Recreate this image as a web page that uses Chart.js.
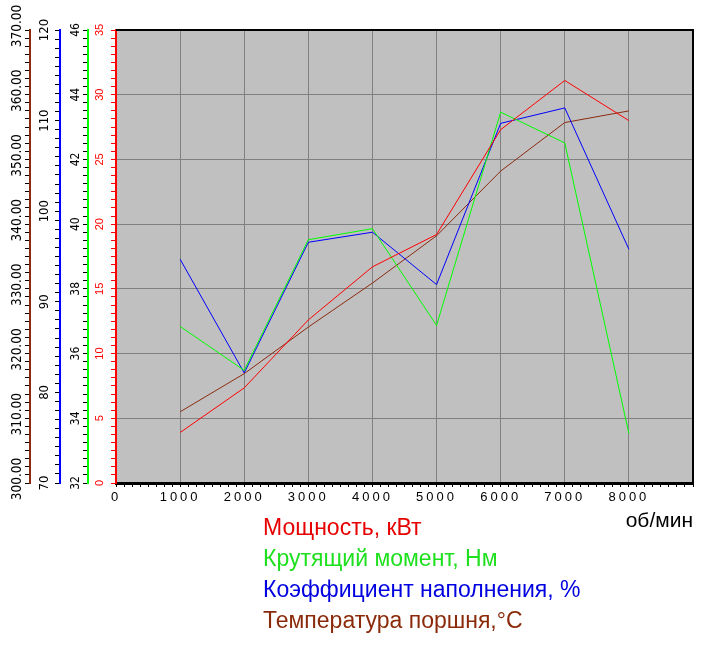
<!DOCTYPE html>
<html><head><meta charset="utf-8">
<script src="https://cdn.jsdelivr.net/npm/chart.js@4/dist/chart.umd.min.js"></script>
<style>html,body{margin:0;padding:0;background:#fff}#w{width:706px;height:645px}</style>
</head><body><div id="w"><canvas id="c" width="706" height="645"></canvas></div>
<script>
// ---- data ----
const rpm = [1000, 2000, 3000, 4000, 5000, 6000, 7000, 8000];
const powerKW = [3.9, 7.35, 12.6, 16.7, 19.2, 27.3, 31.1, 28.0];
const torqueNm = [36.84, 35.48, 39.52, 39.86, 36.87, 43.46, 42.51, 33.53];
const fillPct = [94.7, 82.15, 96.57, 97.68, 91.9, 109.7, 111.4, 95.8];
const pistonTemp = [311.0, 316.9, 324.1, 330.9, 338.2, 348.2, 355.7, 357.5];

const seriesLabels = ['Мощность, кВт', 'Крутящий момент, Нм', 'Коэффициент наполнения, %', 'Температура поршня,°C'];
const xTitle = 'об/мин';
const xTickLabels = ['0', '1000', '2000', '3000', '4000', '5000', '6000', '7000', '8000'];
const powerTickLabels = ['0', '5', '10', '15', '20', '25', '30', '35'];
const torqueTickLabels = ['32', '34', '36', '38', '40', '42', '44', '46'];
const fillTickLabels = ['70', '80', '90', '100', '110', '120'];
const tempTickLabels = ['300.00', '310.00', '320.00', '330.00', '340.00', '350.00', '360.00', '370.00'];

// ---- styles ----
const NARROW = "'Liberation Sans Narrow','DejaVu Sans Condensed','Arial Narrow',sans-serif";
const SANS = "'Liberation Sans', Arial, sans-serif";
const RED = '#ff0000', GREEN = '#00ff00', BLUE = '#0000ff', BROWN = '#8c2a10';
const legendColors = ['#e60000', '#1ee01e', '#0000e0', '#8b2a0a'];

function measure(font, texts) {
  const c = document.createElement('canvas').getContext('2d');
  c.font = font.size + 'px ' + font.family;
  return Math.max(...texts.map(t => c.measureText(t).width));
}

function yScale(o) {
  const W = measure(o.font, o.labels);
  return {
    type: 'linear', position: 'left', weight: o.weight, min: o.min, max: o.max,
    afterFit: s => { s.width = o.width; },
    border: { display: true, color: o.lineColor, width: 2 },
    grid: {
      drawOnChartArea: !!o.gridOnChart,
      color: ctx => (o.gridOnChart && ctx.tick && o.labels.includes(o.fmt(ctx.tick.value))) ? '#808080' : 'rgba(0,0,0,0)',
      tickColor: o.tickColor, tickLength: 5, lineWidth: 1, tickWidth: 1
    },
    ticks: {
      stepSize: o.step, autoSkip: false, minRotation: 90, maxRotation: 90,
      crossAlign: 'center', padding: o.d - 5 - W / 2, labelOffset: o.labelOffset || 0,
      color: o.labelColor, font: o.font,
      callback: v => { const s = o.fmt(v); return o.labels.includes(s) ? s : ''; }
    }
  };
}

const fmtInt = v => String(Math.round(v * 1000) / 1000);

const bgPlugin = {
  id: 'bg',
  beforeDraw(chart) {
    const { ctx, chartArea: a } = chart;
    ctx.save();
    ctx.fillStyle = '#ffffff';
    ctx.fillRect(0, 0, chart.width, chart.height);
    ctx.fillStyle = '#c0c0c0';
    ctx.fillRect(a.left, a.top, a.right - a.left, a.bottom - a.top);
    ctx.restore();
  },
  afterDraw(chart) {
    const { ctx, chartArea: a } = chart;
    ctx.save();
    ctx.strokeStyle = '#000';
    ctx.lineWidth = 2;
    ctx.beginPath();
    ctx.moveTo(a.left, a.top); ctx.lineTo(a.right, a.top); ctx.lineTo(a.right, a.bottom);
    ctx.stroke();
    ctx.restore();
  },
  afterUpdate(chart) {
    const s = chart.scales.x;
    if (s && !s._spaced) {
      const orig = s.drawLabels;
      s.drawLabels = function (area) {
        const c = this.ctx; c.save(); c.letterSpacing = '3px'; orig.call(this, area); c.restore();
      };
      s._spaced = true;
    }
  }
};

const mk = (ys) => rpm.map((x, i) => ({ x, y: ys[i] }));

new Chart(document.getElementById('c'), {
  type: 'line',
  data: {
    datasets: [
      { label: seriesLabels[0], data: mk(powerKW), yAxisID: 'yPower', borderColor: RED, borderWidth: 1, pointRadius: 0, tension: 0, fill: false },
      { label: seriesLabels[1], data: mk(torqueNm), yAxisID: 'yTorque', borderColor: GREEN, borderWidth: 1, pointRadius: 0, tension: 0, fill: false },
      { label: seriesLabels[2], data: mk(fillPct), yAxisID: 'yFill', borderColor: BLUE, borderWidth: 1, pointRadius: 0, tension: 0, fill: false },
      { label: seriesLabels[3], data: mk(pistonTemp), yAxisID: 'yTemp', borderColor: BROWN, borderWidth: 1, pointRadius: 0, tension: 0, fill: false }
    ]
  },
  options: {
    responsive: false, animation: false, devicePixelRatio: 1,
    layout: { padding: { top: 30, right: 13, left: 0, bottom: 1.5 } },
    plugins: {
      tooltip: { enabled: false },
      legend: {
        position: 'bottom', align: 'start',
        labels: {
          boxWidth: 243.5, boxHeight: 1, padding: 8, textAlign: 'left',
          font: { family: SANS, size: 23 },
          generateLabels: chart => chart.data.datasets.map((ds, i) => ({
            text: ds.label, fillStyle: 'rgba(0,0,0,0)', strokeStyle: 'rgba(0,0,0,0)', lineWidth: 0,
            fontColor: legendColors[i], hidden: false, datasetIndex: i
          }))
        }
      }
    },
    scales: {
      x: {
        type: 'linear', position: 'bottom', min: 0, max: 9000,
        afterFit: s => { s.height = 26.5; },
        border: { display: true, color: '#000', width: 3 },
        grid: {
          color: ctx => (ctx.tick && ctx.tick.value % 1000 === 0) ? '#808080' : 'rgba(0,0,0,0)',
          tickColor: '#000', tickLength: 4, lineWidth: 1, tickWidth: 1
        },
        ticks: {
          stepSize: 125, autoSkip: false, minRotation: 0, maxRotation: 0, padding: 3,
          color: '#000', font: { family: SANS, size: 13 },
          callback: v => { const s = String(v); return xTickLabels.includes(s) ? s : ''; }
        },
        title: {
          display: true, text: xTitle, align: 'end', color: '#000',
          font: { family: SANS, size: 21 },
          padding: { top: 0, bottom: -24 }
        }
      },
      yPower: yScale({ weight: 1, min: 0, max: 35, step: 0.625, labels: powerTickLabels, fmt: fmtInt, width: 28, d: 16.5,
        lineColor: RED, tickColor: RED, labelColor: RED, gridOnChart: true,
        font: { family: SANS, size: 11 } }),
      yTorque: yScale({ weight: 2, min: 32, max: 46, step: 0.25, labels: torqueTickLabels, fmt: fmtInt, width: 28, d: 12,
        lineColor: GREEN, tickColor: '#000', labelColor: '#000',
        font: { family: NARROW, size: 12 } }),
      yFill: yScale({ weight: 3, min: 70, max: 120, step: 1, labels: fillTickLabels, fmt: fmtInt, width: 30, d: 15.5,
        lineColor: BLUE, tickColor: '#000', labelColor: '#000',
        font: { family: NARROW, size: 13 } }),
      yTemp: yScale({ weight: 4, min: 300, max: 370, step: 1.25, labels: tempTickLabels, fmt: v => v.toFixed(2), width: 30, d: 13,
        lineColor: BROWN, tickColor: '#000', labelColor: '#000', labelOffset: -4,
        font: { family: NARROW, size: 13.5 } })
    }
  },
  plugins: [bgPlugin]
});
</script></body></html>
